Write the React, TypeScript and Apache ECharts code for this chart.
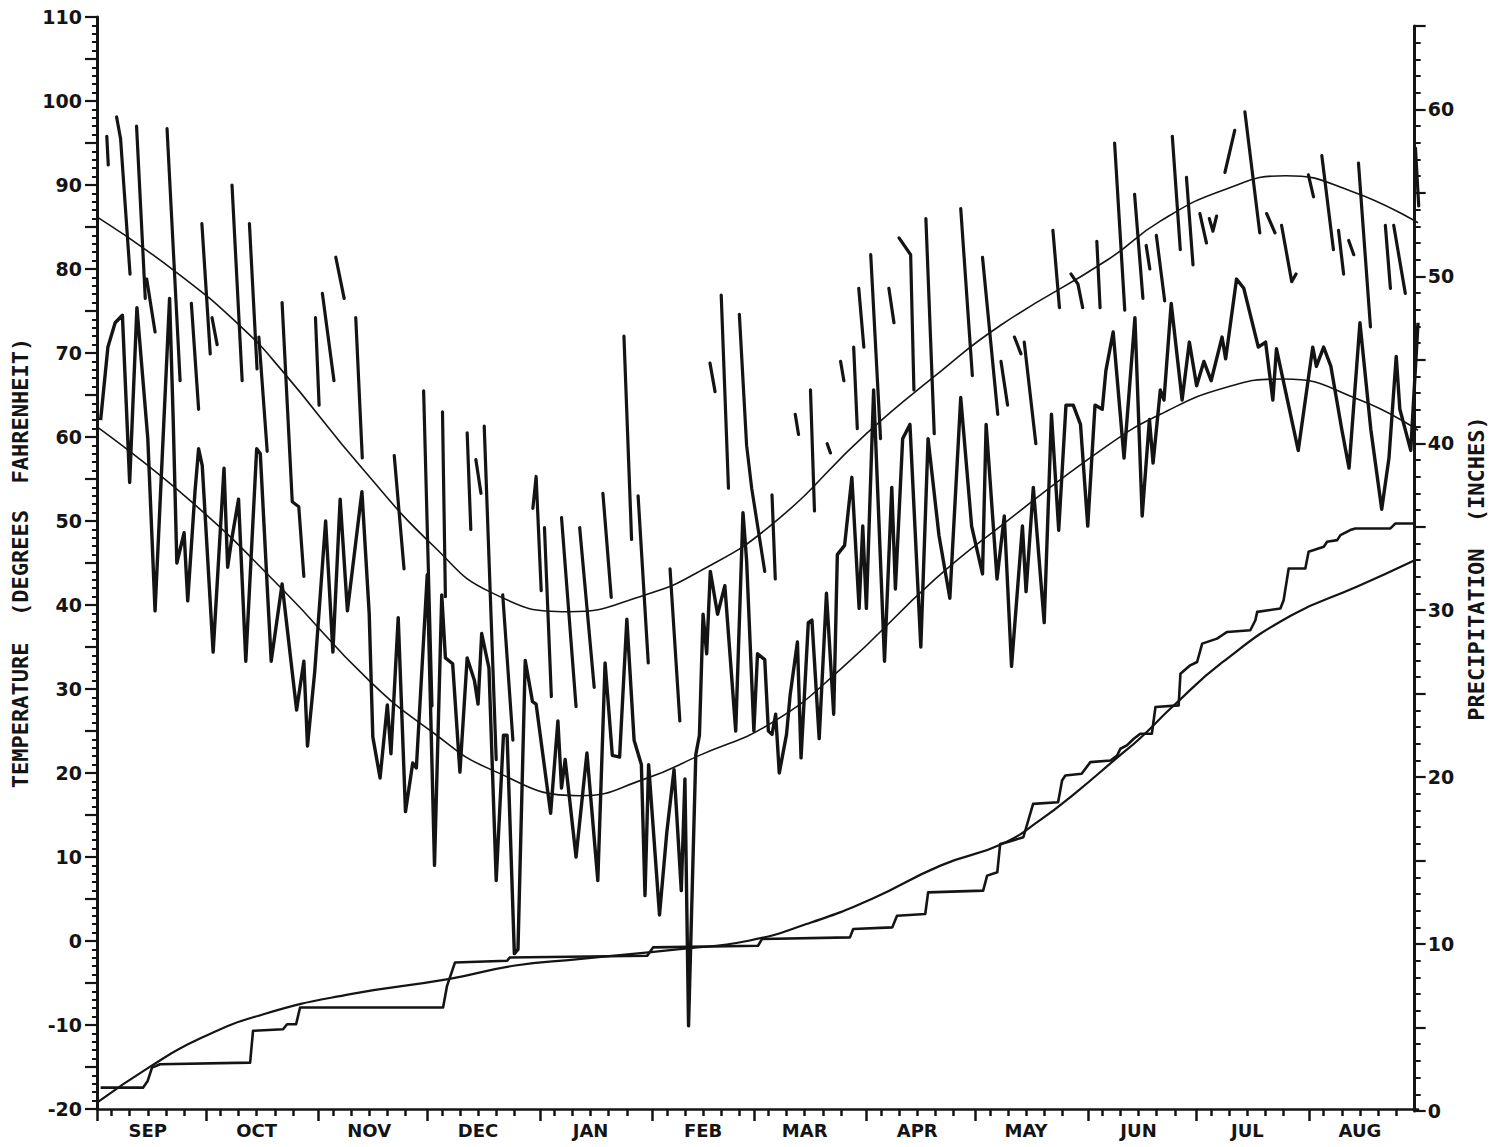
import React, { useEffect, useRef } from 'react';
import * as echarts from 'echarts';

// ---- categories (Sep 1 .. Aug 31) ----
const MONTHS = ['SEP', 'OCT', 'NOV', 'DEC', 'JAN', 'FEB', 'MAR', 'APR', 'MAY', 'JUN', 'JUL', 'AUG'];
const MONTH_DAYS = [30, 31, 30, 31, 31, 28, 31, 30, 31, 30, 31, 31];
const DAY_LABELS: string[] = [];
MONTHS.forEach((m, i) => {
  for (let d = 1; d <= MONTH_DAYS[i]; d++) DAY_LABELS.push(m + ' ' + d);
});

// ---- daily minimum temperature (day index from Sep 1, deg F) at turning points ----
const MIN_TEMP: [number, number][] = [
  [1, 62], [3, 70.7], [5, 73.6], [7, 74.5], [9, 54.6], [11, 75.4], [14, 59.8], [16, 39.3], [20, 76.5], [21, 62],
  [22, 45], [24, 48.6], [25, 40.5], [27, 53.5], [28, 58.6], [29, 56.6], [32, 34.4], [35, 56.3], [36, 44.5], [37, 47.5],
  [39, 52.6], [41, 33.3], [44, 58.6], [45, 58], [47, 41.4], [48, 33.3], [51, 42.5], [55, 27.5], [57, 33.3], [58, 23.2],
  [60, 32.1], [63, 50], [65, 34.4], [67, 52.6], [69, 39.3], [73, 53.5], [75, 39], [76, 24.3], [78, 19.4], [80, 28.1],
  [81, 22.3], [83, 38.5], [85, 15.4], [87, 21.2], [88, 20.6], [91, 43.6], [93, 9], [95, 41.2], [96, 33.7], [98, 33],
  [100, 20.1], [102, 33.7], [104, 31], [105, 28.2], [106, 36.6], [108, 32.5], [110, 7.2], [112, 24.5], [113, 24.5], [115, -1.5],
  [116, -1], [118, 33.4], [120, 28.5], [121, 28.2], [125, 15.2], [127, 26.2], [128, 18.2], [129, 21.6], [132, 10], [135, 22.4],
  [138, 7.2], [140, 33.1], [142, 22.1], [144, 21.9], [146, 38.3], [148, 23.9], [150, 21], [151, 5.4], [152, 21], [155, 3.1],
  [157, 12.9], [159, 20.4], [161, 6], [162, 19.3], [163, -10.1], [165, 22.2], [166, 24.5], [167, 38.9], [168, 34.2], [169, 44],
  [171, 38.9], [173, 42.3], [176, 25], [178, 51], [179, 45.3], [181, 25], [182, 34.2], [184, 33.5], [185, 25], [186, 24.6],
  [187, 27], [188, 20], [190, 24.6], [191, 29.3], [193, 35.6], [194, 21.8], [196, 37.9], [197, 38.2], [199, 24.1], [201, 41.4],
  [203, 27], [204, 46], [206, 47.1], [208, 55.2], [210, 39.6], [211, 49.4], [212, 39.6], [214, 65.6], [217, 33.3], [219, 54],
  [220, 41.9], [222, 59.8], [224, 61.5], [227, 35], [229, 59.8], [232, 48.3], [235, 40.8], [238, 64.7], [241, 49.4], [244, 43.7],
  [245, 61.5], [248, 43.1], [250, 50.6], [252, 32.7], [255, 49.4], [256, 41.6], [258, 54], [261, 37.9], [263, 62.7], [265, 48.9],
  [267, 63.8], [269, 63.8], [271, 61.5], [273, 49.4], [275, 63.8], [277, 63.3], [278, 67.9], [280, 72.5], [283, 57.5], [286, 74.2],
  [288, 50.6], [290, 62.1], [291, 56.9], [293, 65.6], [294, 64.4], [296, 75.9], [299, 64.4], [301, 71.3], [303, 66.1], [305, 69],
  [307, 66.7], [310, 71.9], [311, 69.3], [314, 78.8], [316, 77.7], [320, 70.7], [322, 71.3], [324, 64.4], [325, 70.5], [331, 58.4],
  [335, 70.7], [336, 68.4], [338, 70.7], [340, 68.4], [343, 60.9], [345, 56.3], [348, 73.6], [351, 60.9], [354, 51.4], [356, 57.5],
  [358, 69.6], [359, 63.3], [362, 58.4], [364, 73.6],
];

// ---- daily maximum temperature: the plotted trace is broken into fragments ----
const MAX_TEMP_SEGMENTS: [number, number][][] = [
  [[2.7, 95.8], [3.1, 92.4]],
  [[5.4, 98.1], [6.5, 95.5], [9.1, 79.4]],
  [[10.9, 97], [13.3, 76.5]],
  [[13.7, 78.8], [16, 72.5]],
  [[19.3, 96.7], [22.9, 66.7]],
  [[26, 75.9], [28, 63.3]],
  [[28.9, 85.4], [31.2, 69.9]],
  [[31.7, 74.2], [33.1, 71]],
  [[37.2, 90], [40, 66.7]],
  [[42, 85.4], [44.1, 68.1]],
  [[44.6, 71.9], [46.9, 58.3]],
  [[51, 76], [53.8, 52.3], [55.6, 51.7], [57, 43.4]],
  [[60.2, 74.2], [61.2, 63.8]],
  [[62.1, 77.1], [65.3, 66.7]],
  [[65.8, 81.4], [68.1, 76.5]],
  [[71.3, 74.2], [73.1, 57.5]],
  [[81.9, 57.8], [84.6, 44.3]],
  [[90, 65.5], [92.3, 28]],
  [[95.2, 63], [96, 41]],
  [[102, 60.5], [103, 49]],
  [[104.4, 57.3], [105.8, 53.3]],
  [[106.7, 61.3], [110, 21.6]],
  [[111.8, 41.2], [114.6, 23.9]],
  [[120.1, 51.5], [121, 55.3], [122.4, 41.7]],
  [[123.3, 49.2], [125.2, 29.1]],
  [[128, 50.4], [132, 27.9]],
  [[133, 49.2], [137, 30.2]],
  [[139.4, 53.3], [141.7, 40.9]],
  [[145.2, 72], [147.3, 47.8]],
  [[149.1, 53], [151.9, 33.1]],
  [[157.9, 44.3], [160.6, 26.2]],
  [[168.9, 68.8], [170.3, 65.4]],
  [[172, 76.9], [174, 53.9]],
  [[177, 74.6], [179, 59], [180.4, 53.9], [184, 44]],
  [[186, 53.1], [186.9, 43.1]],
  [[192.4, 62.7], [193.3, 60.3]],
  [[196.6, 65.6], [197.7, 51.2]],
  [[201.2, 59.2], [202.1, 58.1]],
  [[204.9, 69], [205.8, 66.7]],
  [[208.5, 70.7], [209.5, 61]],
  [[209.9, 77.7], [211.3, 70.7]],
  [[213.2, 81.7], [215.9, 59.8]],
  [[218.2, 77.7], [219.6, 73.6]],
  [[221, 83.7], [224.2, 81.7], [225.1, 65.6]],
  [[228.4, 86], [230.7, 60.4]],
  [[238, 87.2], [241.2, 67.3]],
  [[244, 81.4], [248.2, 62.7]],
  [[249.1, 69], [250.9, 63.8]],
  [[252.8, 71.9], [254.6, 69.9]],
  [[255.5, 71.3], [258.7, 59.2]],
  [[263.4, 84.6], [265.2, 75.4]],
  [[268.4, 79.4], [270.3, 78.2], [271.6, 75.4]],
  [[275.5, 83.3], [276.4, 75.4]],
  [[280.4, 95], [283.2, 75.1]],
  [[285.9, 88.9], [288.2, 76.5]],
  [[289.1, 82.8], [290.1, 80]],
  [[291.9, 84], [294.2, 76.2]],
  [[296.3, 95.8], [298.5, 82.3]],
  [[300.2, 90.9], [302, 80.5]],
  [[303.9, 86.6], [305.7, 83.1]],
  [[306.5, 86], [307.5, 84.5], [308.5, 86.3]],
  [[310.8, 91.5], [313.5, 96.5]],
  [[316.3, 98.7], [320.4, 84.3]],
  [[322.3, 86.6], [324.6, 84.3]],
  [[326.4, 85.2], [329.2, 78.5], [330.4, 79.4]],
  [[333.8, 91.2], [335.2, 88.6]],
  [[337.5, 93.5], [340.7, 82.3]],
  [[342.1, 84.6], [343.5, 79.4]],
  [[344.9, 83.4], [346.3, 81.7]],
  [[347.6, 92.6], [350.9, 73.1]],
  [[355, 85.2], [356.4, 77.7]],
  [[357.3, 85.2], [360.5, 77.1]],
  [[363.3, 94.4], [364.2, 87.5]],
];

// ---- normal (long-term mean) max / min temperature ----
const NORMAL_MAX: [number, number][] = [
  [0, 86.2], [21.6, 79.7], [40, 73], [51, 67.9], [73, 56.3], [93, 46.9], [108.6, 41.5], [130, 39.2],
  [151, 41.2], [166, 44], [186, 49.6], [212, 60.4], [231, 67.3], [249, 73.3], [278.5, 81.1], [293, 85.7],
  [311, 89.5], [327.5, 91.1], [346, 89.2], [364, 85.5],
];
const NORMAL_MIN: [number, number][] = [
  [0, 61.2], [26, 52.3], [51, 41.9], [75, 31], [92, 25], [108.6, 20.4], [133, 17.3], [151, 19.3],
  [166, 22.1], [186, 26], [205, 32.4], [231, 43.1], [249, 49.4], [278.5, 59], [293, 62.7], [311, 65.9],
  [327, 66.9], [348, 64.4], [364, 60.8],
];

// ---- cumulative precipitation (inches) ----
const PRECIP_ACTUAL: [number, number][] = [
  [1, 1.4], [12.7, 1.4], [14, 1.8], [15.2, 2.6], [17.4, 2.8], [42.3, 2.9], [43.1, 4.8], [51.4, 4.9], [52.5, 5.2],
  [55, 5.2], [56.1, 6.2], [95.6, 6.2], [96.7, 7.5], [98.9, 8.9], [113.3, 9.0], [114, 9.2], [152, 9.3],
  [153.6, 9.8], [182.6, 9.9], [183.7, 10.3], [208, 10.4], [208.9, 10.9], [219.7, 11.0], [221, 11.7],
  [228.8, 11.8], [229.6, 13.1], [244.8, 13.2], [245.9, 14.1], [248.7, 14.3], [249.5, 16.0], [251.4, 16.1],
  [255.9, 16.4], [258.6, 18.4], [265.5, 18.5], [266.6, 19.8], [267.5, 20.1], [272, 20.2], [274.4, 20.9],
  [280, 21.0], [281.8, 21.3], [282.7, 21.7], [284.5, 21.9], [286.4, 22.3], [288.2, 22.6], [291.4, 22.6],
  [292.4, 24.2], [298.8, 24.3], [299.3, 26.2], [302, 26.7], [303.9, 26.9], [305.3, 28.0], [309.4, 28.3],
  [310.8, 28.5], [312.2, 28.7], [318.6, 28.8], [320, 29.4], [320.5, 29.9], [326.9, 30.1], [327.8, 30.6],
  [329.2, 32.5], [333.8, 32.5], [334.7, 33.5], [338.9, 33.8], [339.8, 34.1], [342.6, 34.2], [343.5, 34.5],
  [346.2, 34.8], [347.6, 34.9], [357.3, 34.9], [358.7, 35.2], [364, 35.2],
];
const PRECIP_NORMAL: [number, number][] = [
  [0, 0.5], [15, 2.7], [28, 4.3], [46, 5.8], [70, 7.0], [97, 7.9], [115, 8.7], [133, 9.1], [161, 9.7],
  [180, 10.2], [196, 11.2], [214, 12.7], [233, 14.7], [250, 16.0], [261, 17.5], [270, 19.0], [282, 21.2],
  [288, 22.3], [297, 24.2], [311, 26.9], [330, 29.7], [348, 31.4], [364, 33.0],
];

const INK = '#141414';
const LABEL_FONT = { fontFamily: 'DejaVu Sans', fontWeight: 'bold' as const, fontSize: 19, color: INK };
const NAME_FONT = { fontFamily: 'DejaVu Sans Mono', fontWeight: 'bold' as const, fontSize: 22, color: INK };

function buildMaxData() {
  const out: any[] = [];
  MAX_TEMP_SEGMENTS.forEach((seg, i) => {
    if (i > 0) out.push([seg[0][0], '-']);
    seg.forEach((p) => out.push(p));
  });
  return out;
}

function dayOf(v: string) {
  return Number(v.split(' ')[1]);
}

export default function App() {
  const ref = useRef<HTMLDivElement>(null);
  useEffect(() => {
    const chart = echarts.init(ref.current!, null, { renderer: 'svg' });
    const grid0 = { left: 97, top: 17, width: 1321, height: 1092 };
    const grid1 = { left: 97, top: 26, width: 1321, height: 1085 };
    const option: any = {
      animation: false,
      backgroundColor: '#ffffff',
      grid: [grid0, grid1],
      xAxis: [
        { type: 'value', gridIndex: 0, min: 0, max: 364, show: false, axisLine: { onZero: false } },
        {
          type: 'category', gridIndex: 0, data: DAY_LABELS, boundaryGap: false, position: 'bottom',
          axisLine: { show: true, onZero: false, lineStyle: { color: INK, width: 2.5 } },
          axisTick: { show: true, length: 7, lineStyle: { color: INK, width: 2.5 },
            interval: (_i: number, v: string) => [5, 10, 15, 20, 25].includes(dayOf(v)) },
          axisLabel: { ...LABEL_FONT, fontSize: 18, margin: 12,
            interval: (_i: number, v: string) => dayOf(v) === 15,
            formatter: (v: string) => v.split(' ')[0] },
          splitLine: { show: false },
        },
        {
          type: 'category', gridIndex: 0, data: DAY_LABELS, boundaryGap: false, position: 'bottom',
          axisLine: { show: false, onZero: false },
          axisTick: { show: true, length: 12, lineStyle: { color: INK, width: 2.5 },
            interval: (_i: number, v: string) => dayOf(v) === 1 },
          axisLabel: { show: false },
          splitLine: { show: false },
        },
        { type: 'value', gridIndex: 1, min: 0, max: 364, show: false, axisLine: { onZero: false } },
      ],
      yAxis: [
        {
          type: 'value', gridIndex: 0, position: 'left', min: -20, max: 110, interval: 1,
          name: 'TEMPERATURE \u00a0(DEGREES \u00a0FAHRENHEIT)', nameLocation: 'middle', nameRotate: 90, nameGap: 66,
          nameTextStyle: NAME_FONT,
          axisLine: { show: true, onZero: false, lineStyle: { color: INK, width: 3 } },
          axisTick: { show: true, length: 5, lineStyle: { color: INK, width: 2 } },
          axisLabel: { ...LABEL_FONT, margin: 15, formatter: (v: number) => (v % 10 === 0 ? String(v) : '') },
          splitLine: { show: false },
        },
        {
          type: 'value', gridIndex: 0, position: 'left', min: -20, max: 110, interval: 5,
          axisLine: { show: false, onZero: false },
          axisTick: { show: true, length: 12, lineStyle: { color: INK, width: 2.2 } },
          axisLabel: { show: false },
          splitLine: { show: false },
        },
        {
          type: 'value', gridIndex: 1, position: 'right', min: 0, max: 65, interval: 1,
          name: 'PRECIPITATION \u00a0(INCHES)', nameLocation: 'middle', nameRotate: 90, nameGap: 50,
          nameTextStyle: NAME_FONT,
          axisLine: { show: true, onZero: false, lineStyle: { color: INK, width: 3 } },
          axisTick: { show: true, length: 6, lineStyle: { color: INK, width: 2 } },
          axisLabel: { ...LABEL_FONT, margin: 13, formatter: (v: number) => (v % 10 === 0 ? String(v) : '') },
          splitLine: { show: false },
        },
        {
          type: 'value', gridIndex: 1, position: 'right', min: 0, max: 65, interval: 5,
          axisLine: { show: false, onZero: false },
          axisTick: { show: true, length: 11, lineStyle: { color: INK, width: 2.2 } },
          axisLabel: { show: false },
          splitLine: { show: false },
        },
      ],
      series: [
        {
          name: 'Normal max', type: 'line', xAxisIndex: 0, yAxisIndex: 0, data: NORMAL_MAX, smooth: true,
          showSymbol: false, lineStyle: { color: INK, width: 1.6 }, z: 2,
        },
        {
          name: 'Normal min', type: 'line', xAxisIndex: 0, yAxisIndex: 0, data: NORMAL_MIN, smooth: true,
          showSymbol: false, lineStyle: { color: INK, width: 1.6 }, z: 2,
        },
        {
          name: 'Daily max', type: 'line', xAxisIndex: 0, yAxisIndex: 0, data: buildMaxData(), connectNulls: false,
          showSymbol: false, lineStyle: { color: INK, width: 3.2, cap: 'round', join: 'round' }, z: 3,
        },
        {
          name: 'Daily min', type: 'line', xAxisIndex: 0, yAxisIndex: 0, data: MIN_TEMP,
          showSymbol: false, lineStyle: { color: INK, width: 3.4, join: 'round' }, z: 3,
        },
        {
          name: 'Normal precipitation', type: 'line', xAxisIndex: 3, yAxisIndex: 2, data: PRECIP_NORMAL, smooth: true,
          showSymbol: false, lineStyle: { color: INK, width: 2.2 }, z: 2,
        },
        {
          name: 'Precipitation', type: 'line', xAxisIndex: 3, yAxisIndex: 2, data: PRECIP_ACTUAL,
          showSymbol: false, lineStyle: { color: INK, width: 2.6, join: 'round' }, z: 3,
        },
      ],
    };
    chart.setOption(option);
    return () => chart.dispose();
  }, []);
  return (
    <div
      ref={ref}
      style={{ position: 'fixed', left: 0, top: 0, width: 1495, height: 1147, background: '#fff' }}
    />
  );
}
